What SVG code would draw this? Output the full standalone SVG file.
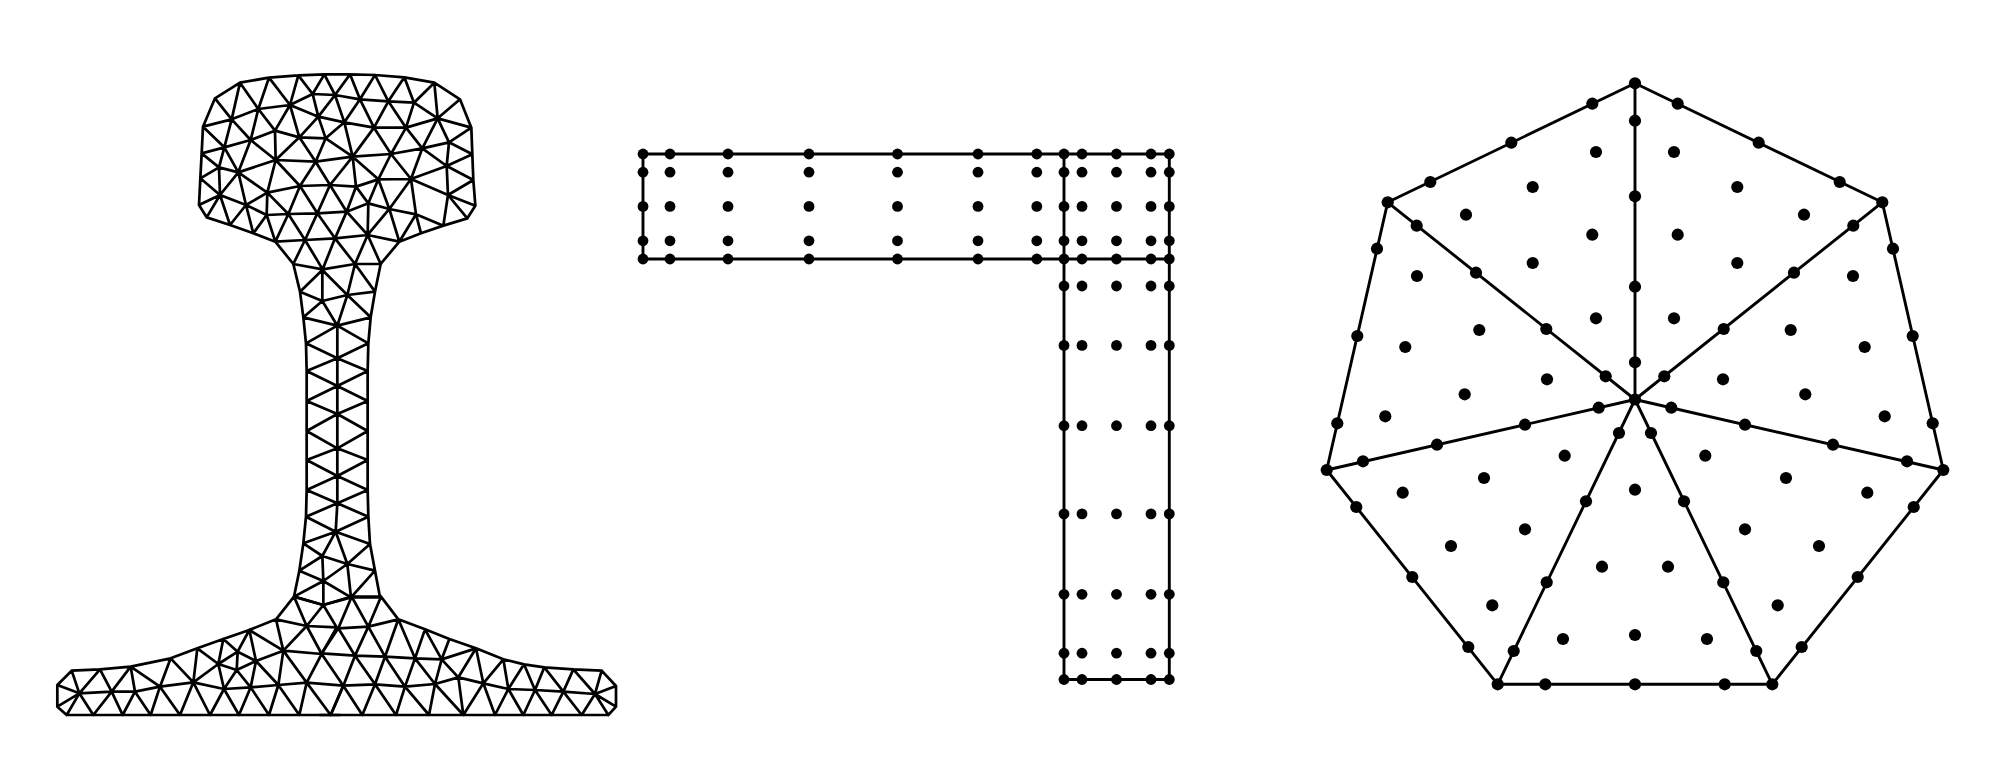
<svg xmlns="http://www.w3.org/2000/svg" width="2016" height="759" viewBox="0 0 2016 759">
<style>
.m{fill:none;stroke:#000;stroke-width:8.2;stroke-linejoin:round;stroke-linecap:round}
.e{fill:none;stroke:#000;stroke-width:2.9;stroke-linejoin:round}
.a circle{r:5.4px;fill:#000}
.h circle{r:6.1px;fill:#000}
</style>
<rect width="2016" height="759" fill="#fff"/>
<g id="rail-mesh">
<g transform="translate(40,60) scale(.33333)">
<path class="m" d="M600 68L687 53L775 46L853 43L930 43L1005 45L1093 52L1183 68L1260 118L1294 203L1297 283L1300 360L1306 437L1282 475L1210 497L1143 520L1078 545L1022 612M760 612L706 545L640 520L570 495L500 472L477 435L481 355L485 280L489 200L525 115L600 68
M525 115L575 178L600 68L655 147L687 53L750 135L775 46L818 102L853 43L885 105L930 43L960 118L1005 45L1045 124L1093 52L1122 128L1183 68L1193 175L1260 118M1294 203L1193 175
M489 200L575 178M489 200L553 262L485 280L537 322L481 355L540 405L477 435M500 472L540 405L570 495L618 435L640 520L680 465L706 545L745 462M706 545L795 540L885 535L983 525L1078 545
M1294 203L1227 247L1297 283L1220 318L1300 360L1224 405L1306 437M1282 475L1224 405L1210 497L1128 463L1143 520M1078 545L1128 463
M575 178L655 147L750 135L818 102L885 105L960 118L1045 124L1122 128L1193 175
M750 135L835 170L913 187L1002 203L1098 203L1193 175
M818 102L835 170L885 105L913 187L960 118L1002 203L1045 124L1098 203L1122 128
M705 212L750 135L778 232L835 170L857 235L913 187L938 290L1002 203L1053 282L1098 203L1147 265L1193 175L1227 247
M705 212L655 147L632 240L575 178L553 262L632 240L705 212L778 232L857 235
M705 212L707 300L632 240L595 337L553 262L537 322L595 337L707 300L827 305L938 290L1053 282L1147 265L1227 247
M707 300L778 232L827 305L857 235L938 290
M537 322L540 405L595 337L618 435M595 337L682 398L707 300L780 378L827 305L870 375L938 290L948 380M938 290L1015 358L1053 282L1113 357L1147 265L1220 318L1227 247
M682 398L780 378L870 375L948 380L1015 358L1113 357L1220 318
M540 405L618 435L680 465L745 462L832 460L920 455L985 430L1048 447L1128 463
M618 435L682 398L680 465M682 398L745 462L780 378L832 460L870 375L920 455L948 380L985 430L1015 358L1048 447L1113 357L1128 463M1113 357L1224 405L1220 318
M745 462L795 540L832 460L885 535L920 455L983 525L985 430M983 525L1048 447L1078 545
M706 545L760 612L795 540L848 628L885 535L945 612L983 525L1022 612L1078 545
M760 612L848 628L945 612L1022 612"/>
</g>
<g transform="translate(270,260) scale(.33333)">
<path class="m" d="M70 12L90 95L100 172L108 250L110 333L110 423L110 513L110 600L110 690L108 770L100 850L88 932L72 1010
M332 12L315 95L302 172L295 250L293 333L293 423L293 513L293 600L293 690L295 770L300 852L315 932L330 1012
M157 30L90 95L157 123L157 30L232 105L255 12L315 95L232 105L157 123L100 172L202 197L157 123
M232 105L202 197L302 172L232 105L315 95
M202 197L108 250L202 295L295 250L202 197L202 295L110 333L202 378L293 333L202 295L202 378
M202 378L110 423L202 462L293 423L202 378L202 462L110 513L202 565L293 513L202 462L202 565
M202 565L110 600L202 648L293 600L202 565L202 648L110 690L202 730L293 690L202 648L202 730
M202 730L108 770L197 815L295 770L202 730L197 815L100 850L157 888L232 912L300 852L197 815L157 888
M197 815L232 912M157 888L88 932L160 963L232 912L243 1012L315 932L232 912
M160 963L157 888M160 963L72 1010L160 1035L243 1012L160 963L160 1035M243 1012L330 1012"/>
</g>
<g transform="translate(40,590) scale(.33333)">
<path class="m" d="M708 88L628 120L550 147L472 175L392 205L272 230L180 238L95 242L52 285L52 350L80 375L900 375
M95 242L118 310L52 285M52 350L118 310L80 375M180 238L118 310M180 238L215 305L272 230L285 305M272 230L360 290L392 205L460 277L472 175L535 222L550 147L593 185L628 120L648 213M708 88L730 182L628 120
M118 310L215 305L285 305L360 290L460 277L552 297L632 292L715 285L800 278L910 287
M118 310L160 375L215 305L248 375L285 305L332 375L360 290L420 375L460 277L510 375L552 297L597 375L632 292L687 375L715 285L778 375L800 278L872 375L910 287
M535 222L460 277M535 222L552 297M535 222L593 185L590 240L535 222M593 185L648 213L590 240L552 297M590 240L632 292L648 213L715 285L730 182L800 278L845 192L910 287
M648 213L730 182L845 192M730 182L800 108L708 88M800 108L762 20L708 88M800 108L850 45L890 112L845 192L800 108L890 112M762 20L850 45"/>
</g>
<g transform="translate(320,590) scale(.33333)">
<path class="m" d="M183 20L235 88L315 118L388 147L468 175L550 208L612 223L673 232L760 238L845 242L888 288L888 350L865 375L0 375
M5 190L105 197L195 200L285 205L365 208L468 175
M55 115L145 110L235 88M55 115L105 197L145 110L195 200L235 88L285 205L315 118L365 208L388 147M183 20L145 110L95 20L55 115M10 45L95 20L183 20
M5 190L55 115
M105 197L70 287L165 283L105 197M165 283L195 200L255 290L285 205L345 282L365 208L415 262L468 175L490 280L550 208L565 297L612 223L645 300L673 232L730 305L760 238L825 312L845 242M888 288L825 312L888 350M865 375L825 312
M165 283L255 290L345 282L415 262L490 280L565 297L645 300L730 305L825 312
M70 287L32 375M70 287L127 375L165 283L228 375L255 290L327 375L345 282L430 375L415 262M430 375L490 280L525 375L565 297L610 375L645 300L695 375L730 305L785 375L825 312"/>
</g>
</g>
<g id="l-shape" class="a">
<path class="e" d="M643 154H1169.3V679.5H1064V154M643 154V259H1169.3"/>
<circle cx="643" cy="154"/><circle cx="670" cy="154"/><circle cx="728" cy="154"/><circle cx="809" cy="154"/><circle cx="897.5" cy="154"/><circle cx="978" cy="154"/><circle cx="1036.8" cy="154"/><circle cx="1064" cy="154"/><circle cx="1082" cy="154"/><circle cx="1116.5" cy="154"/><circle cx="1151" cy="154"/><circle cx="1169.3" cy="154"/>
<circle cx="643" cy="172.2"/><circle cx="670" cy="172.2"/><circle cx="728" cy="172.2"/><circle cx="809" cy="172.2"/><circle cx="897.5" cy="172.2"/><circle cx="978" cy="172.2"/><circle cx="1036.8" cy="172.2"/><circle cx="1064" cy="172.2"/><circle cx="1082" cy="172.2"/><circle cx="1116.5" cy="172.2"/><circle cx="1151" cy="172.2"/><circle cx="1169.3" cy="172.2"/>
<circle cx="643" cy="206.4"/><circle cx="670" cy="206.4"/><circle cx="728" cy="206.4"/><circle cx="809" cy="206.4"/><circle cx="897.5" cy="206.4"/><circle cx="978" cy="206.4"/><circle cx="1036.8" cy="206.4"/><circle cx="1064" cy="206.4"/><circle cx="1082" cy="206.4"/><circle cx="1116.5" cy="206.4"/><circle cx="1151" cy="206.4"/><circle cx="1169.3" cy="206.4"/>
<circle cx="643" cy="240.8"/><circle cx="670" cy="240.8"/><circle cx="728" cy="240.8"/><circle cx="809" cy="240.8"/><circle cx="897.5" cy="240.8"/><circle cx="978" cy="240.8"/><circle cx="1036.8" cy="240.8"/><circle cx="1064" cy="240.8"/><circle cx="1082" cy="240.8"/><circle cx="1116.5" cy="240.8"/><circle cx="1151" cy="240.8"/><circle cx="1169.3" cy="240.8"/>
<circle cx="643" cy="259"/><circle cx="670" cy="259"/><circle cx="728" cy="259"/><circle cx="809" cy="259"/><circle cx="897.5" cy="259"/><circle cx="978" cy="259"/><circle cx="1036.8" cy="259"/><circle cx="1064" cy="259"/><circle cx="1082" cy="259"/><circle cx="1116.5" cy="259"/><circle cx="1151" cy="259"/><circle cx="1169.3" cy="259"/>
<circle cx="1064" cy="286"/><circle cx="1082" cy="286"/><circle cx="1116.5" cy="286"/><circle cx="1151" cy="286"/><circle cx="1169.3" cy="286"/>
<circle cx="1064" cy="345.4"/><circle cx="1082" cy="345.4"/><circle cx="1116.5" cy="345.4"/><circle cx="1151" cy="345.4"/><circle cx="1169.3" cy="345.4"/>
<circle cx="1064" cy="425.7"/><circle cx="1082" cy="425.7"/><circle cx="1116.5" cy="425.7"/><circle cx="1151" cy="425.7"/><circle cx="1169.3" cy="425.7"/>
<circle cx="1064" cy="513.9"/><circle cx="1082" cy="513.9"/><circle cx="1116.5" cy="513.9"/><circle cx="1151" cy="513.9"/><circle cx="1169.3" cy="513.9"/>
<circle cx="1064" cy="594.3"/><circle cx="1082" cy="594.3"/><circle cx="1116.5" cy="594.3"/><circle cx="1151" cy="594.3"/><circle cx="1169.3" cy="594.3"/>
<circle cx="1064" cy="653.2"/><circle cx="1082" cy="653.2"/><circle cx="1116.5" cy="653.2"/><circle cx="1151" cy="653.2"/><circle cx="1169.3" cy="653.2"/>
<circle cx="1064" cy="679.5"/><circle cx="1082" cy="679.5"/><circle cx="1116.5" cy="679.5"/><circle cx="1151" cy="679.5"/><circle cx="1169.3" cy="679.5"/>
</g>
<g id="heptagon" class="h">
<path class="e" d="M1635 83.3L1882.3 202.3L1943.3 470L1772.3 684.3H1497.7L1326.7 470L1387.7 202.3ZM1635 83.3V399.5M1882.3 202.3L1635 399.5M1943.3 470L1635 399.5M1772.3 684.3L1635 399.5M1497.7 684.3L1635 399.5M1326.7 470L1635 399.5M1387.7 202.3L1635 399.5"/>
<circle cx="1635" cy="83.3"/><circle cx="1387.7" cy="202.3"/><circle cx="1326.7" cy="470"/><circle cx="1497.7" cy="684.3"/><circle cx="1772.3" cy="684.3"/><circle cx="1943.3" cy="470"/><circle cx="1882.3" cy="202.3"/><circle cx="1635" cy="399.5"/>
<circle cx="1592.3" cy="103.7"/><circle cx="1511.3" cy="142.7"/><circle cx="1430.3" cy="182"/>
<circle cx="1635" cy="120.7"/><circle cx="1635" cy="196.3"/><circle cx="1635" cy="286.7"/><circle cx="1635" cy="362.3"/>
<circle cx="1416.7" cy="225.7"/><circle cx="1476" cy="272.7"/><circle cx="1546.3" cy="329"/><circle cx="1605.7" cy="376.3"/>
<circle cx="1596" cy="152"/><circle cx="1532.7" cy="187"/><circle cx="1466" cy="214.7"/><circle cx="1592.3" cy="234.7"/><circle cx="1532.7" cy="263"/><circle cx="1596" cy="318.3"/>
<circle cx="1417" cy="276"/><circle cx="1479.3" cy="330"/><circle cx="1405.3" cy="347"/><circle cx="1547" cy="379.3"/><circle cx="1464.7" cy="394.3"/><circle cx="1385.3" cy="416.3"/>
<circle cx="1377" cy="248.7"/><circle cx="1357.3" cy="336"/><circle cx="1337.3" cy="423.3"/>
<circle cx="1598.7" cy="407.7"/><circle cx="1525" cy="424.7"/><circle cx="1437" cy="444.7"/><circle cx="1363" cy="461.3"/>
<circle cx="1356.3" cy="507"/><circle cx="1412.3" cy="577"/><circle cx="1468.3" cy="647"/>
<circle cx="1564.7" cy="455.7"/><circle cx="1484" cy="478"/><circle cx="1402.7" cy="492.7"/><circle cx="1525" cy="529.3"/><circle cx="1451" cy="546"/><circle cx="1492.3" cy="605.3"/>
<circle cx="1619" cy="433"/><circle cx="1586" cy="501.3"/><circle cx="1546.7" cy="582.3"/><circle cx="1513.7" cy="651"/>
<circle cx="1545.3" cy="684.3"/><circle cx="1635" cy="684.3"/><circle cx="1724.7" cy="684.3"/>
<circle cx="1635" cy="489.7"/><circle cx="1602" cy="566.7"/><circle cx="1563" cy="639"/><circle cx="1635" cy="635"/><circle cx="1668" cy="566.7"/><circle cx="1707" cy="639"/>
<circle cx="1677.7" cy="103.7"/><circle cx="1758.7" cy="142.7"/><circle cx="1839.7" cy="182"/>
<circle cx="1853.3" cy="225.7"/><circle cx="1794" cy="272.7"/><circle cx="1723.7" cy="329"/><circle cx="1664.3" cy="376.3"/>
<circle cx="1674" cy="152"/><circle cx="1737.3" cy="187"/><circle cx="1804" cy="214.7"/><circle cx="1677.7" cy="234.7"/><circle cx="1737.3" cy="263"/><circle cx="1674" cy="318.3"/>
<circle cx="1853" cy="276"/><circle cx="1790.7" cy="330"/><circle cx="1864.7" cy="347"/><circle cx="1723" cy="379.3"/><circle cx="1805.3" cy="394.3"/><circle cx="1884.7" cy="416.3"/>
<circle cx="1893" cy="248.7"/><circle cx="1912.7" cy="336"/><circle cx="1932.7" cy="423.3"/>
<circle cx="1671.3" cy="407.7"/><circle cx="1745" cy="424.7"/><circle cx="1833" cy="444.7"/><circle cx="1907" cy="461.3"/>
<circle cx="1913.7" cy="507"/><circle cx="1857.7" cy="577"/><circle cx="1801.7" cy="647"/>
<circle cx="1705.3" cy="455.7"/><circle cx="1786" cy="478"/><circle cx="1867.3" cy="492.7"/><circle cx="1745" cy="529.3"/><circle cx="1819" cy="546"/><circle cx="1777.7" cy="605.3"/>
<circle cx="1651" cy="433"/><circle cx="1684" cy="501.3"/><circle cx="1723.3" cy="582.3"/><circle cx="1756.3" cy="651"/>
</g>
</svg>
